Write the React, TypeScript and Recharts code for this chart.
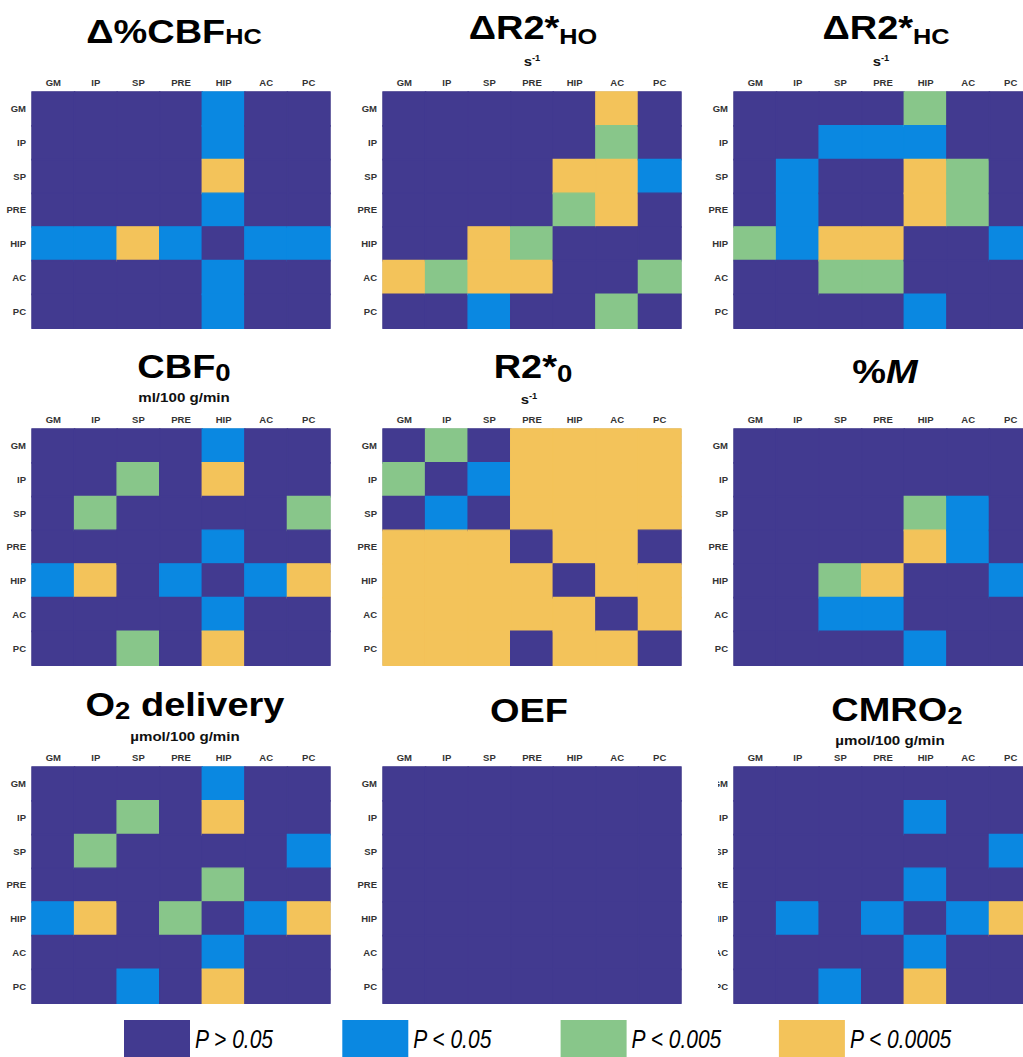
import { BarChart, Bar, XAxis, YAxis, Cell, ReferenceArea } from 'recharts';

const REGIONS = ['GM', 'IP', 'SP', 'PRE', 'HIP', 'AC', 'PC'];
const TICK_POS = [0.5, 1.5, 2.5, 3.5, 4.5, 5.5, 6.5];

// significance level per pair: 0 = n.s., 1 = P<0.05, 2 = P<0.005, 3 = P<0.0005
const LEVEL_COLORS = ['#423a90', '#0a88e1', '#88c68a', '#f3c35a'];
const LEVEL_LABELS = ['P > 0.05', 'P < 0.05', 'P < 0.005', 'P < 0.0005'];

const dCbfHc = [
    [0, 0, 0, 0, 1, 0, 0],
    [0, 0, 0, 0, 1, 0, 0],
    [0, 0, 0, 0, 3, 0, 0],
    [0, 0, 0, 0, 1, 0, 0],
    [1, 1, 3, 1, 0, 1, 1],
    [0, 0, 0, 0, 1, 0, 0],
    [0, 0, 0, 0, 1, 0, 0],
];

const dR2Ho = [
    [0, 0, 0, 0, 0, 3, 0],
    [0, 0, 0, 0, 0, 2, 0],
    [0, 0, 0, 0, 3, 3, 1],
    [0, 0, 0, 0, 2, 3, 0],
    [0, 0, 3, 2, 0, 0, 0],
    [3, 2, 3, 3, 0, 0, 2],
    [0, 0, 1, 0, 0, 2, 0],
];

const dR2Hc = [
    [0, 0, 0, 0, 2, 0, 0],
    [0, 0, 1, 1, 1, 0, 0],
    [0, 1, 0, 0, 3, 2, 0],
    [0, 1, 0, 0, 3, 2, 0],
    [2, 1, 3, 3, 0, 0, 1],
    [0, 0, 2, 2, 0, 0, 0],
    [0, 0, 0, 0, 1, 0, 0],
];

const cbf0 = [
    [0, 0, 0, 0, 1, 0, 0],
    [0, 0, 2, 0, 3, 0, 0],
    [0, 2, 0, 0, 0, 0, 2],
    [0, 0, 0, 0, 1, 0, 0],
    [1, 3, 0, 1, 0, 1, 3],
    [0, 0, 0, 0, 1, 0, 0],
    [0, 0, 2, 0, 3, 0, 0],
];

const r2Zero = [
    [0, 2, 0, 3, 3, 3, 3],
    [2, 0, 1, 3, 3, 3, 3],
    [0, 1, 0, 3, 3, 3, 3],
    [3, 3, 3, 0, 3, 3, 0],
    [3, 3, 3, 3, 0, 3, 3],
    [3, 3, 3, 3, 3, 0, 3],
    [3, 3, 3, 0, 3, 3, 0],
];

const pctM = [
    [0, 0, 0, 0, 0, 0, 0],
    [0, 0, 0, 0, 0, 0, 0],
    [0, 0, 0, 0, 2, 1, 0],
    [0, 0, 0, 0, 3, 1, 0],
    [0, 0, 2, 3, 0, 0, 1],
    [0, 0, 1, 1, 0, 0, 0],
    [0, 0, 0, 0, 1, 0, 0],
];

const o2Delivery = [
    [0, 0, 0, 0, 1, 0, 0],
    [0, 0, 2, 0, 3, 0, 0],
    [0, 2, 0, 0, 0, 0, 1],
    [0, 0, 0, 0, 2, 0, 0],
    [1, 3, 0, 2, 0, 1, 3],
    [0, 0, 0, 0, 1, 0, 0],
    [0, 0, 1, 0, 3, 0, 0],
];

const oef = [
    [0, 0, 0, 0, 0, 0, 0],
    [0, 0, 0, 0, 0, 0, 0],
    [0, 0, 0, 0, 0, 0, 0],
    [0, 0, 0, 0, 0, 0, 0],
    [0, 0, 0, 0, 0, 0, 0],
    [0, 0, 0, 0, 0, 0, 0],
    [0, 0, 0, 0, 0, 0, 0],
];

const cmro2 = [
    [0, 0, 0, 0, 0, 0, 0],
    [0, 0, 0, 0, 1, 0, 0],
    [0, 0, 0, 0, 0, 0, 1],
    [0, 0, 0, 0, 1, 0, 0],
    [0, 1, 0, 1, 0, 1, 3],
    [0, 0, 0, 0, 1, 0, 0],
    [0, 0, 1, 0, 3, 0, 0],
];

const FONT = '"Liberation Sans", Arial, Helvetica, sans-serif';
const AXIS_W = 32;
const AXIS_H = 16;
const PLOT_W = 298;
const PLOT_H = 236;
const COL_X = [32, 383, 734];
const ROW_Y = [92, 429, 767];

const tickStyle = { fontSize: 9.5, fontWeight: 700, fill: '#333', fontFamily: FONT };

function Matrix({ levels }: { levels: number[][] }) {
    // every row is a stack of seven unit-wide segments, one per column region
    const rows = REGIONS.map((region) => {
        const row: Record<string, string | number> = { region };
        REGIONS.forEach((col) => {
            row[col] = 1;
        });
        return row;
    });

    return (
        <BarChart
            width={AXIS_W + PLOT_W + 1}
            height={AXIS_H + PLOT_H + 1}
            data={rows}
            layout="vertical"
            margin={{ top: 0, right: 1, bottom: 1, left: 0 }}
            barCategoryGap={0}
            barGap={0}
        >
            <XAxis
                type="number"
                orientation="top"
                domain={[0, 7]}
                ticks={TICK_POS}
                interval={0}
                tickFormatter={(v: number) => REGIONS[Math.floor(v)]}
                height={AXIS_H}
                axisLine={false}
                tickLine={false}
                tickSize={4}
                tick={tickStyle}
            />
            <YAxis
                type="category"
                dataKey="region"
                width={AXIS_W}
                interval={0}
                axisLine={false}
                tickLine={false}
                tickSize={4}
                tick={tickStyle}
            />
            {REGIONS.map((col, j) => (
                <Bar key={col} dataKey={col} stackId="m" isAnimationActive={false}>
                    {levels.map((r, i) => (
                        <Cell
                            key={i}
                            fill={LEVEL_COLORS[r[j]]}
                            stroke={LEVEL_COLORS[r[j]]}
                            strokeWidth={1.4}
                        />
                    ))}
                </Bar>
            ))}
            <ReferenceArea x1={0} x2={7} fill="none" stroke="#a3a3a8" strokeWidth={1} ifOverflow="visible" />
        </BarChart>
    );
}

const PANELS = [
    { levels: dCbfHc, col: 0, row: 0 },
    { levels: dR2Ho, col: 1, row: 0 },
    { levels: dR2Hc, col: 2, row: 0 },
    { levels: cbf0, col: 0, row: 1 },
    { levels: r2Zero, col: 1, row: 1 },
    { levels: pctM, col: 2, row: 1 },
    { levels: o2Delivery, col: 0, row: 2 },
    { levels: oef, col: 1, row: 2 },
    { levels: cmro2, col: 2, row: 2, clipLeft: 718 },
];

function Labels() {
    const main = { fontFamily: FONT, fontWeight: 700, fontSize: 33, fill: '#000' };
    const unit = { fontFamily: FONT, fontWeight: 700, fontSize: 13.5, fill: '#111' };
    const at = (x: number, y: number, s = 1.15) => `translate(${x},${y}) scale(${s},1)`;

    return (
        <svg width={1023} height={1057} style={{ position: 'absolute', left: 0, top: 0 }}>
            {/* top row */}
            <text transform={at(174, 43)} textAnchor="middle" style={main}>
                Δ%CBF<tspan fontSize={22} dy={1}>HC</tspan>
            </text>
            <text transform={at(533, 39)} textAnchor="middle" style={main}>
                ΔR2*<tspan fontSize={22} dy={5}>HO</tspan>
            </text>
            <text transform={at(532, 66, 1.1)} textAnchor="middle" style={unit}>
                s<tspan fontSize={8.5} dy={-5}>-1</tspan>
            </text>
            <text transform={at(886, 39)} textAnchor="middle" style={main}>
                ΔR2*<tspan fontSize={22} dy={5}>HC</tspan>
            </text>
            <text transform={at(881, 66, 1.1)} textAnchor="middle" style={unit}>
                s<tspan fontSize={8.5} dy={-5}>-1</tspan>
            </text>

            {/* middle row */}
            <text transform={at(184, 378)} textAnchor="middle" style={main}>
                CBF<tspan fontSize={24} dy={3}>0</tspan>
            </text>
            <text transform={at(184, 402, 1.12)} textAnchor="middle" style={unit}>
                ml/100 g/min
            </text>
            <text transform={at(533, 378)} textAnchor="middle" style={main}>
                R2*<tspan fontSize={24} dy={4}>0</tspan>
            </text>
            <text transform={at(529, 404, 1.1)} textAnchor="middle" style={unit}>
                s<tspan fontSize={8.5} dy={-5}>-1</tspan>
            </text>
            <text transform={at(885, 383)} textAnchor="middle" style={main}>
                %<tspan fontStyle="italic">M</tspan>
            </text>

            {/* bottom row */}
            <text transform={at(185, 716)} textAnchor="middle" style={main}>
                O<tspan fontSize={24} dy={3}>2</tspan>
                <tspan dy={-3}> delivery</tspan>
            </text>
            <text transform={at(185, 741, 1.12)} textAnchor="middle" style={unit}>
                µmol/100 g/min
            </text>
            <text transform={at(529, 722)} textAnchor="middle" style={main}>
                OEF
            </text>
            <text transform={at(897, 721)} textAnchor="middle" style={main}>
                CMRO<tspan fontSize={24} dy={3}>2</tspan>
            </text>
            <text transform={at(890, 745, 1.12)} textAnchor="middle" style={unit}>
                µmol/100 g/min
            </text>

            {/* shared legend */}
            {LEVEL_LABELS.map((label, k) => (
                <g key={label} transform={`translate(${124 + k * 218.3},1020)`}>
                    <rect width={66} height={40} fill={LEVEL_COLORS[k]} />
                    <text
                        transform="translate(71,28) scale(0.84,1)"
                        fontStyle="italic"
                        fontSize={25}
                        fontFamily={FONT}
                        fill="#000"
                    >
                        {label}
                    </text>
                </g>
            ))}
        </svg>
    );
}

export default function App() {
    return (
        <div
            style={{
                position: 'absolute',
                left: 0,
                top: 0,
                width: 1023,
                height: 1057,
                overflow: 'hidden',
                background: '#fff',
            }}
        >
            <Labels />
            {PANELS.map((p, idx) => {
                const left = COL_X[p.col] - AXIS_W;
                const top = ROW_Y[p.row] - AXIS_H;
                const clip = p.clipLeft ?? left;
                return (
                    <div
                        key={idx}
                        style={{
                            position: 'absolute',
                            left: clip,
                            top,
                            width: 1023 - clip,
                            height: AXIS_H + PLOT_H + 1,
                            overflow: p.col === 2 ? 'hidden' : 'visible',
                        }}
                    >
                        <div style={{ position: 'relative', left: left - clip }}>
                            <Matrix levels={p.levels} />
                        </div>
                    </div>
                );
            })}
        </div>
    );
}
